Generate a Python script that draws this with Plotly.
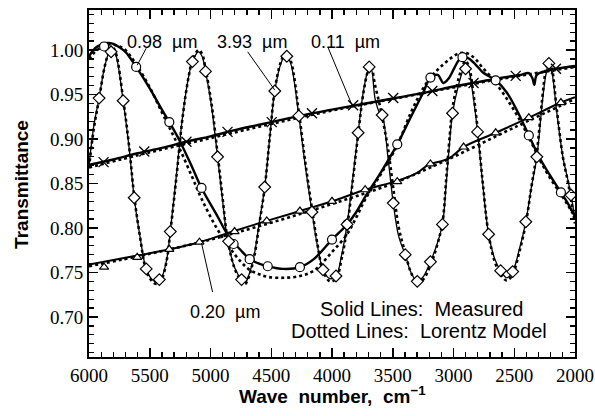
import plotly.graph_objects as go

# ---------------- data ----------------
# 3.93 um film: measured
w393 = [6000, 5960, 5917, 5870, 5830, 5810, 5780, 5719, 5670, 5628,
        5580, 5529, 5480, 5440, 5400, 5360, 5331, 5280, 5230, 5180,
        5149, 5099, 5070, 5041, 4990, 4942, 4900, 4860, 4800, 4744,
        4715, 4690, 4640, 4600, 4554, 4510, 4471, 4420, 4380, 4340,
        4273, 4220, 4165, 4120, 4074, 4017, 3967, 3920, 3876, 3830,
        3785, 3740, 3700, 3680, 3645, 3610, 3587, 3540, 3496, 3450,
        3397, 3350, 3298, 3250, 3190, 3140, 3091, 3060, 3030, 3008,
        2960, 2920, 2901, 2870, 2840, 2802, 2760, 2711, 2660, 2612,
        2562, 2513, 2460, 2405, 2360, 2314, 2270, 2240, 2215, 2190,
        2150, 2100, 2060, 2033, 2000]
t393 = [0.870, 0.915, 0.946, 0.982, 0.999, 1.002, 0.995, 0.943, 0.890, 0.834,
        0.790, 0.754, 0.742, 0.739, 0.745, 0.765, 0.796, 0.860, 0.925, 0.970,
        0.987, 0.998, 0.993, 0.976, 0.935, 0.880, 0.830, 0.787, 0.755, 0.742,
        0.739, 0.745, 0.770, 0.805, 0.846, 0.905, 0.954, 0.985, 0.995, 0.985,
        0.926, 0.870, 0.818, 0.780, 0.753, 0.743, 0.746, 0.770, 0.804, 0.855,
        0.907, 0.955, 0.978, 0.980, 0.945, 0.930, 0.927, 0.880, 0.828, 0.790,
        0.770, 0.750, 0.740, 0.745, 0.762, 0.780, 0.804, 0.850, 0.900, 0.929,
        0.960, 0.978, 0.983, 0.975, 0.950, 0.908, 0.850, 0.793, 0.765, 0.752,
        0.744, 0.751, 0.775, 0.807, 0.845, 0.880, 0.940, 0.972, 0.985, 0.975,
        0.930, 0.880, 0.855, 0.837, 0.810]
# 3.93 um film: Lorentz model
m393 = [0.868, 0.912, 0.945, 0.982, 1.000, 1.004, 0.997, 0.945, 0.892, 0.836,
        0.790, 0.752, 0.740, 0.737, 0.743, 0.764, 0.795, 0.858, 0.924, 0.970,
        0.988, 1.000, 0.996, 0.979, 0.938, 0.884, 0.833, 0.788, 0.754, 0.740,
        0.737, 0.743, 0.768, 0.803, 0.845, 0.905, 0.955, 0.987, 0.997, 0.988,
        0.930, 0.874, 0.822, 0.782, 0.752, 0.740, 0.743, 0.766, 0.800, 0.852,
        0.905, 0.953, 0.978, 0.982, 0.960, 0.940, 0.925, 0.890, 0.845, 0.800,
        0.772, 0.750, 0.738, 0.742, 0.758, 0.778, 0.806, 0.855, 0.905, 0.935,
        0.967, 0.984, 0.988, 0.980, 0.955, 0.912, 0.852, 0.793, 0.762, 0.748,
        0.741, 0.748, 0.772, 0.805, 0.845, 0.885, 0.945, 0.978, 0.990, 0.980,
        0.933, 0.880, 0.853, 0.833, 0.805]
w393_mk = [5917, 5818, 5719, 5628, 5529, 5421, 5331, 5149, 5041, 4942,
           4851, 4744, 4554, 4471, 4372, 4273, 4165, 4074, 3967, 3876,
           3785, 3694, 3587, 3496, 3397, 3298, 3190, 3091, 3008, 2901,
           2802, 2711, 2612, 2513, 2405, 2314, 2215, 2033]
t393_mk = [0.946, 0.998, 0.943, 0.834, 0.754, 0.742, 0.796, 0.987, 0.976, 0.880,
           0.785, 0.742, 0.846, 0.954, 0.993, 0.926, 0.818, 0.753, 0.746, 0.804,
           0.907, 0.981, 0.927, 0.828, 0.770, 0.740, 0.762, 0.804, 0.929, 0.979,
           0.908, 0.793, 0.752, 0.751, 0.807, 0.880, 0.985, 0.837]

# 0.98 um film
w098 = [6000, 5950, 5900, 5850, 5800, 5750, 5700, 5612, 5500, 5400,
        5339, 5250, 5150, 5074, 4950, 4843, 4750, 4678, 4600, 4529,
        4400, 4264, 4150, 4000, 3876, 3800, 3727, 3600, 3463, 3350,
        3250, 3190, 3130, 3083, 3040, 3000, 2960, 2926, 2880, 2820,
        2760, 2700, 2653, 2560, 2470, 2380, 2280, 2200, 2116, 2060,
        2000]
t098 = [0.993, 1.002, 1.006, 1.008, 1.007, 1.003, 0.998, 0.981, 0.957, 0.933,
        0.919, 0.897, 0.868, 0.845, 0.815, 0.789, 0.775, 0.765, 0.760, 0.757,
        0.754, 0.756, 0.765, 0.787, 0.804, 0.818, 0.835, 0.862, 0.894, 0.925,
        0.952, 0.969, 0.972, 0.963, 0.968, 0.978, 0.988, 0.992, 0.991, 0.984,
        0.975, 0.970, 0.966, 0.952, 0.930, 0.904, 0.876, 0.858, 0.840, 0.828,
        0.813]
m098 = [0.990, 0.998, 1.003, 1.006, 1.006, 1.004, 1.000, 0.984, 0.958, 0.930,
        0.913, 0.888, 0.857, 0.833, 0.800, 0.778, 0.762, 0.753, 0.748, 0.745,
        0.744, 0.746, 0.752, 0.773, 0.793, 0.812, 0.832, 0.860, 0.893, 0.930,
        0.957, 0.969, 0.978, 0.984, 0.989, 0.993, 0.996, 0.997, 0.996, 0.990,
        0.980, 0.971, 0.963, 0.945, 0.925, 0.902, 0.874, 0.855, 0.838, 0.826,
        0.812]
w098_mk = [5876, 5612, 5339, 5074, 4810, 4678, 4529, 4264, 4000, 3876,
           3463, 3190, 2926, 2653, 2380, 2116]
t098_mk = [1.004, 0.981, 0.919, 0.845, 0.782, 0.765, 0.757, 0.756, 0.787, 0.804,
           0.894, 0.969, 0.992, 0.966, 0.904, 0.840]

# 0.11 um film
w011 = [6000, 5800, 5600, 5400, 5200, 5000, 4800, 4600, 4400, 4200,
        4000, 3800, 3600, 3400, 3200, 3000, 2800, 2600, 2450, 2380,
        2350, 2335, 2315, 2250, 2150, 2000]
t011 = [0.871, 0.877, 0.884, 0.890, 0.897, 0.903, 0.910, 0.916, 0.922, 0.928,
        0.933, 0.938, 0.943, 0.948, 0.953, 0.959, 0.964, 0.969, 0.972, 0.974,
        0.968, 0.961, 0.972, 0.976, 0.979, 0.982]
w011_mod = [6000, 5500, 5000, 4500, 4000, 3500, 3000, 2500, 2000]
m011 = [0.868, 0.885, 0.901, 0.917, 0.932, 0.945, 0.958, 0.970, 0.981]
w011_mk = [5880, 5545, 5198, 4860, 4496, 4165, 3826, 3496, 3174, 2835, 2488, 2157]
t011_mk = [0.874, 0.886, 0.897, 0.908, 0.919, 0.929, 0.938, 0.946, 0.954, 0.963, 0.971, 0.979]

# 0.20 um film
w020 = [6000, 5876, 5603, 5339, 5091, 4843, 4537, 4264, 4000, 3727,
        3463, 3300, 3207, 3041, 2917, 2653, 2380, 2116, 2000]
t020 = [0.759, 0.762, 0.769, 0.776, 0.784, 0.795, 0.808, 0.819, 0.830, 0.843,
        0.853, 0.862, 0.871, 0.878, 0.891, 0.907, 0.924, 0.941, 0.947]
w020_mod = [6000, 5500, 5000, 4500, 4000, 3500, 3000, 2500, 2000]
m020 = [0.757, 0.771, 0.787, 0.806, 0.827, 0.850, 0.880, 0.913, 0.945]
w020_mk = [5876, 5603, 5339, 5091, 4802, 4537, 4264, 4000, 3727, 3463,
           3190, 2917, 2653, 2380, 2116]
t020_mk = [0.756, 0.767, 0.776, 0.784, 0.796, 0.808, 0.819, 0.830, 0.843, 0.852,
           0.872, 0.891, 0.907, 0.924, 0.941]

x_tickvals = [6000, 5500, 5000, 4500, 4000, 3500, 3000, 2500, 2000]
y_tickvals = [0.70, 0.75, 0.80, 0.85, 0.90, 0.95, 1.00]
y_ticktext = ["0.70", "0.75", "0.80", "0.85", "0.90", "0.95", "1.00"]

# ---------------- figure ----------------
BLACK = "black"
fig = go.Figure()

def dotted(x, y):
    fig.add_trace(go.Scatter(x=x, y=y, mode="lines", line_shape="spline",
                             line=dict(color=BLACK, width=2.6, dash="dot"),
                             hoverinfo="skip", showlegend=False))

def solid(x, y, w):
    fig.add_trace(go.Scatter(x=x, y=y, mode="lines", line_shape="spline",
                             line=dict(color=BLACK, width=w),
                             hoverinfo="skip", showlegend=False))

def marks(x, y, sym, size):
    fig.add_trace(go.Scatter(x=x, y=y, mode="markers",
                             marker=dict(symbol=sym, size=size, color="white",
                                         line=dict(color=BLACK, width=1.2)),
                             hoverinfo="skip", showlegend=False))

# model (dotted) first
dotted(w011_mod, m011)
dotted(w020_mod, m020)
dotted(w098, m098)
dotted(w393, m393)
# measured (solid)
solid(w011, t011, 2.4)
solid(w020, t020, 2.0)
solid(w098, t098, 2.4)
solid(w393, t393, 1.3)
# markers
marks(w020_mk, t020_mk, "triangle-up", 8)
marks(w098_mk, t098_mk, "circle", 9)
marks(w393_mk, t393_mk, "diamond", 9)
fig.add_trace(go.Scatter(x=w011_mk, y=t011_mk, mode="markers",
                         marker=dict(symbol="x-thin", size=10,
                                     line=dict(color=BLACK, width=1.3)),
                         hoverinfo="skip", showlegend=False))

SANS = "Liberation Sans, Arial, sans-serif"
LABEL_FONT = dict(family=SANS, size=18, color=BLACK)
NOTE_FONT = dict(family=SANS, size=20, color=BLACK)

labels = [("0.98 \u00a0µm", 5397, 1.009), ("3.93 \u00a0µm", 4661, 1.009),
          ("0.11 \u00a0µm", 3893, 1.009), ("0.20 \u00a0µm", 4884, 0.706)]
for txt, xx, yy in labels:
    fig.add_annotation(x=xx, y=yy, text=txt, showarrow=False, font=LABEL_FONT,
                       xanchor="center", yanchor="middle")

pointers = [(5529, 1.002, 5603, 0.983), (4694, 0.998, 4471, 0.955),
            (4033, 1.003, 3835, 0.938), (4983, 0.728, 5074, 0.783)]
for x0, y0, x1, y1 in pointers:
    fig.add_shape(type="line", x0=x0, y0=y0, x1=x1, y1=y1,
                  line=dict(color=BLACK, width=1))

fig.add_annotation(x=3260, y=0.7085, text="Solid Lines: \u00a0Measured",
                   showarrow=False, font=NOTE_FONT)
fig.add_annotation(x=3280, y=0.684, text="Dotted Lines: \u00a0Lorentz Model",
                   showarrow=False, font=NOTE_FONT)

TITLE_FONT = dict(family=SANS, size=19, color=BLACK)
fig.add_annotation(xref="paper", yref="paper", x=0, y=0.496, xshift=-67,
                   text="<b>Transmittance</b>", textangle=-90, showarrow=False,
                   font=TITLE_FONT, xanchor="center", yanchor="middle")
fig.add_annotation(xref="paper", yref="paper", x=0.502, y=0, yshift=-38,
                   text="<b>Wave \u00a0number, \u00a0cm<sup>−1</sup></b>", showarrow=False,
                   font=TITLE_FONT, xanchor="center", yanchor="middle")

TICK_FONT = dict(family="Liberation Serif, Times New Roman, serif", size=19, color=BLACK)
fig.update_xaxes(range=[6000, 2000], tickvals=x_tickvals, ticks="inside", ticklen=9,
                 tickwidth=1.5, tickcolor=BLACK, showline=True, linecolor=BLACK,
                 linewidth=2, mirror="allticks", showgrid=False, zeroline=False,
                 tickfont=TICK_FONT, automargin=False, ticklabelstandoff=0,
                 minor=dict(dtick=100, ticks="inside", ticklen=5, tickwidth=1.3,
                            tickcolor=BLACK, showgrid=False))
fig.update_yaxes(range=[0.655, 1.045], tickvals=y_tickvals, ticktext=y_ticktext,
                 ticks="inside", ticklen=9, tickwidth=1.5, tickcolor=BLACK,
                 showline=True, linecolor=BLACK, linewidth=2, mirror="allticks",
                 showgrid=False, zeroline=False, tickfont=TICK_FONT, automargin=False,
                 minor=dict(dtick=0.01, ticks="inside", ticklen=5, tickwidth=1.3,
                            tickcolor=BLACK, showgrid=False))

fig.update_layout(width=595, height=416, margin=dict(l=89, r=20, t=10, b=59),
                  paper_bgcolor="white", plot_bgcolor="white", showlegend=False)

fig.write_html("out.html", config={"displayModeBar": False, "staticPlot": True},
               post_script="document.body.style.margin='0';"
                           "document.body.style.overflow='hidden';")
